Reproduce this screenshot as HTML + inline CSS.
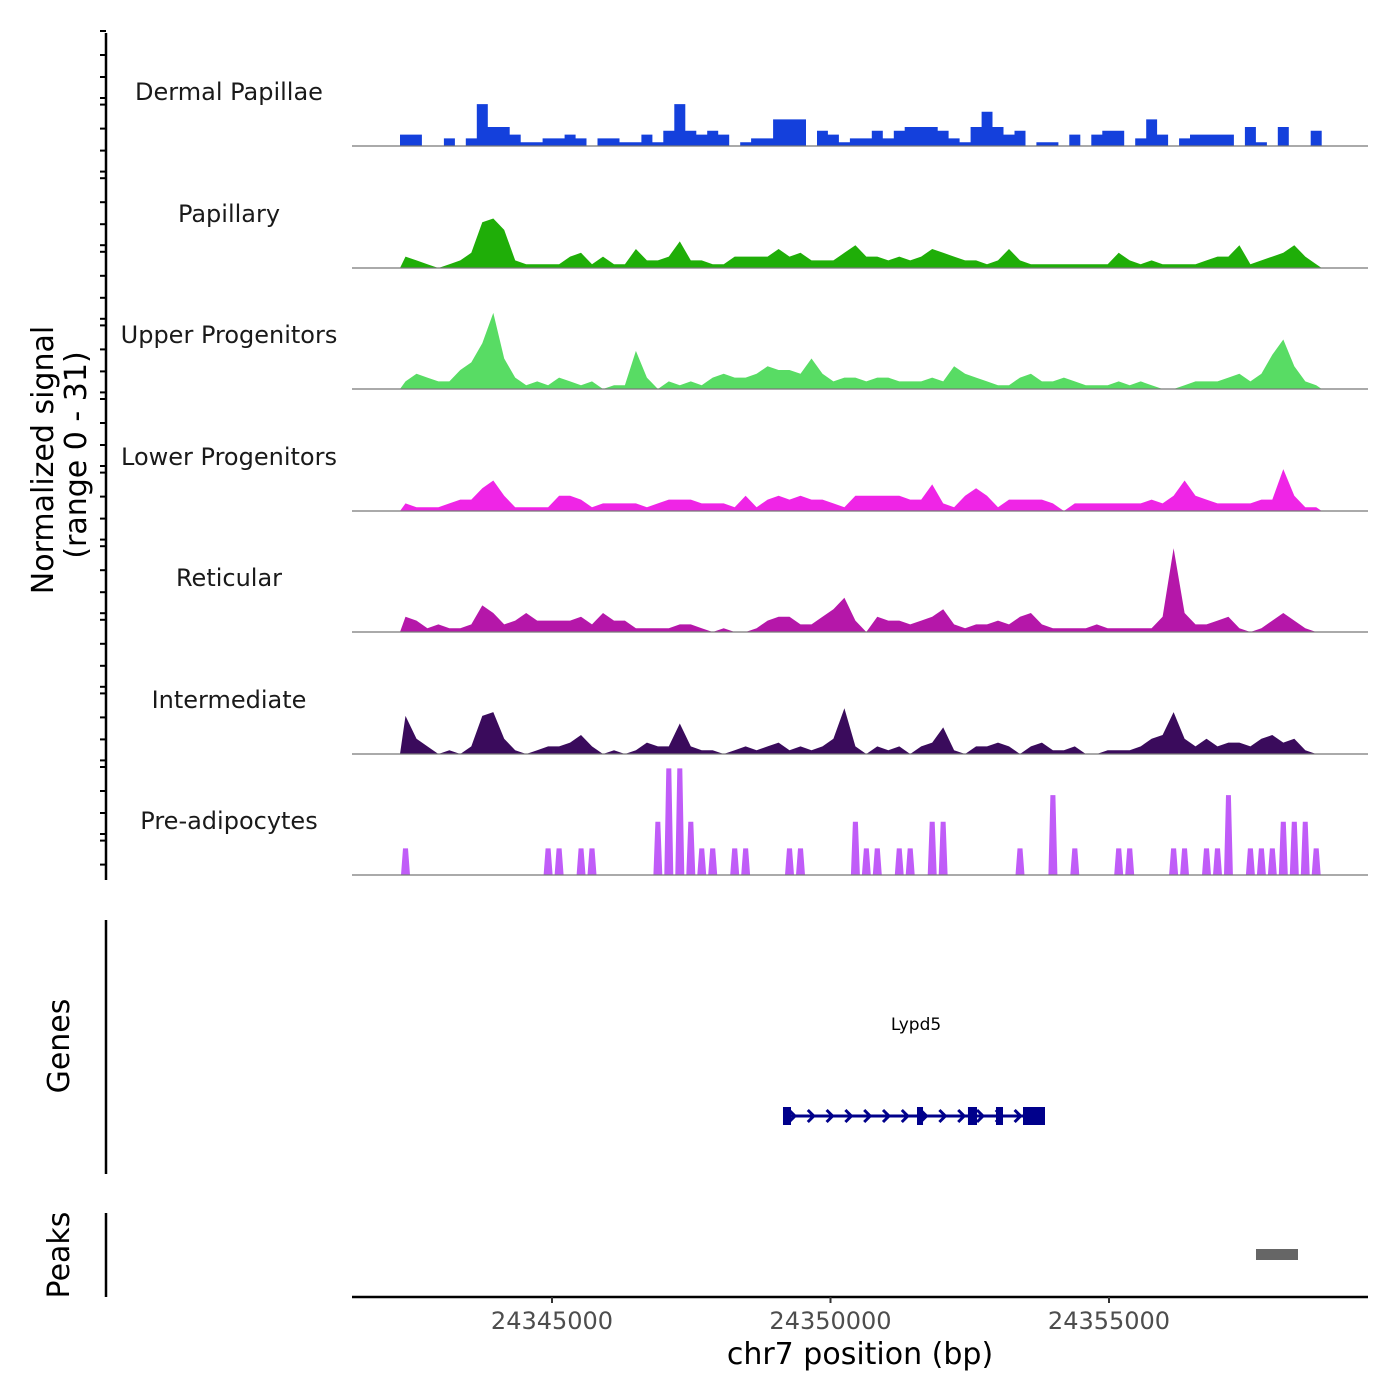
<!DOCTYPE html>
<html><head><meta charset="utf-8">
<style>
html,body{margin:0;padding:0;background:#fff;}
svg{display:block;font-family:"DejaVu Sans","Liberation Sans",sans-serif;}
</style></head>
<body>
<svg id="chart" width="1400" height="1400" viewBox="0 0 1400 1400" xmlns="http://www.w3.org/2000/svg">
<g id="tracks"></g>
<g id="axes"></g>
<g id="genes"></g>
</svg>
<script>
// ---- data ----
const binStart = 24342271;   // bp of first bin start
const binSize = 197;         // bp per bin
const trackNames = ["Dermal Papillae","Papillary","Upper Progenitors","Lower Progenitors","Reticular","Intermediate","Pre-adipocytes"];
const trackColors = ["#1440dc","#1fae08","#58dc64","#ef25e6","#b517a9","#3a0b5c","#c05cf8"];
const dermal = [3,3,0,0,2,0,2,11,5,5,3,1,1,2,2,3,2,0,2,2,1,1,3,1,4,11,4,3,4,3,0,1,2,2,7,7,7,0,4,3,1,2,2,4,2,4,5,5,5,4,2,1,5,9,5,3,4,0,1,1,0,3,0,3,4,4,0,2,7,3,0,2,3,3,3,3,0,5,1,0,5,0,0,4];
const papillary = [3,2,1,0,1,2,4,12,13,10,2,1,1,1,1,3,4,1,3,1,1,5,2,2,3,7,2,2,1,1,3,3,3,3,5,3,4,2,2,2,4,6,3,3,2,3,2,3,5,4,3,2,2,1,2,5,2,1,1,1,1,1,1,1,1,4,2,1,2,1,1,1,1,2,3,3,6,1,2,3,4,6,3,1];
const upper = [2,4,3,2,2,5,7,12,20,8,3,1,2,1,3,2,1,2,0,1,1,10,3,0,2,1,2,1,3,4,3,3,4,6,5,5,4,8,4,2,3,3,2,3,3,2,2,2,3,2,6,4,3,2,1,1,3,4,2,2,3,2,1,1,1,2,1,2,1,0,0,1,2,2,2,3,4,2,4,9,13,6,2,1];
const lower = [2,1,1,1,2,3,3,6,8,4,1,1,1,1,4,4,3,1,2,2,2,2,1,2,3,3,3,2,2,2,1,4,1,3,4,3,4,3,3,2,1,4,4,4,4,4,3,3,7,2,1,4,6,4,1,3,3,3,3,2,0,2,2,2,2,2,2,2,3,2,4,8,4,3,2,2,2,2,3,3,11,4,1,1];
const reticular = [4,3,1,2,1,1,2,7,5,2,3,5,3,3,3,3,4,2,5,3,3,1,1,1,1,2,2,1,0,1,0,0,1,3,4,4,2,2,4,6,9,3,0,4,3,3,2,3,4,6,2,1,2,2,3,2,4,5,2,1,1,1,1,2,1,1,1,1,1,4,22,5,2,2,3,4,1,0,1,3,5,3,1,0];
const intermediate = [10,4,2,0,1,0,2,10,11,4,1,0,1,2,2,3,5,2,0,1,0,1,3,2,2,8,2,1,1,0,1,2,1,2,3,1,2,1,2,4,12,2,0,2,1,2,0,2,3,7,1,0,2,2,3,2,0,2,3,1,1,2,0,0,1,1,1,2,4,5,11,4,2,4,2,3,3,2,4,5,3,4,1,0];
const preadip = [7,0,0,0,0,0,0,0,0,0,0,0,0,7,7,0,7,7,0,0,0,0,0,14,28,28,14,7,7,0,7,7,0,0,0,7,7,0,0,0,0,14,7,7,0,7,7,0,14,14,0,0,0,0,0,0,7,0,0,21,0,7,0,0,0,7,7,0,0,0,7,7,0,7,7,21,0,7,7,7,14,14,14,7];
const trackValues = [dermal,papillary,upper,lower,reticular,intermediate,preadip];
const trackStyle = ["step","smooth","smooth","smooth","smooth","smooth","spike"];
const xTicks = [24345000,24350000,24355000];
const geneLine = [24349201,24353833];
const geneExons = [[24349147,24349291],[24351553,24351661],[24352468,24352630],[24352971,24353097],[24353456,24353851]];
const peaks = [[24357639,24358393]];

// ---- scales ----
const NS="http://www.w3.org/2000/svg";
const xPx = bp => 552 + (bp-24345000)*278.5/5000;
const baselines=[146,268,389,511,632,754,875];
const yMax = 31, yPx = 118;
const yScale = (base,v) => base - v*yPx/yMax;
function mk(tag,attrs,parent){const e=document.createElementNS(NS,tag);for(const k in attrs)e.setAttribute(k,attrs[k]);parent.appendChild(e);return e;}

const tg=document.getElementById('tracks');
trackValues.forEach((vals,t)=>{
  const base=baselines[t];
  const style=trackStyle[t];
  const g=mk('g',{},tg);
  
  
  let d='M'+xPx(binStart).toFixed(1)+','+base;
  vals.forEach((v,i)=>{
    const x0=xPx(binStart+i*binSize), x1=xPx(binStart+(i+1)*binSize);
    const y=yScale(base,v);
    if(style==="smooth"){
      d+=' L'+((x0+x1)/2).toFixed(1)+','+y.toFixed(1);
    } else if(style==="spike"){
      if(v>0){d+=' L'+(x0+1).toFixed(1)+','+base+' L'+(x0+3).toFixed(1)+','+y.toFixed(1)+' L'+(x1-3).toFixed(1)+','+y.toFixed(1)+' L'+(x1-1).toFixed(1)+','+base;}
      else d+=' L'+x1.toFixed(1)+','+base;
    } else {
      d+=' L'+x0.toFixed(1)+','+y.toFixed(1)+' L'+x1.toFixed(1)+','+y.toFixed(1);
    }
  });
  d+=' L'+xPx(binStart+vals.length*binSize).toFixed(1)+','+base+' Z';
  const p=mk('path',{d:d,fill:trackColors[t]},g);
  
  
  const bl=mk('line',{x1:352,x2:1368,y1:base,y2:base,stroke:'#777','stroke-width':1.2},g);
  
  
  const lb=mk('text',{x:229,y:base-46,'text-anchor':'middle','font-size':24,fill:'#1a1a1a'},g);
  lb.textContent=trackNames[t];
  
  
});

// ---- axes ----
const ax=document.getElementById('axes');
let l=mk('line',{x1:106,x2:106,y1:33,y2:880,stroke:'#000','stroke-width':2.5},ax);


for(let k=0;k<12;k++){[0,24,46,67].forEach(o=>{const y=31+73.6*k+o;if(y<879){
  const t=mk('line',{x1:100,x2:106,y1:y,y2:y,stroke:'#000','stroke-width':2},ax);
  
  }});}
let tt=mk('text',{transform:'translate(53,460) rotate(-90)','text-anchor':'middle','font-size':30,fill:'#000'},ax);
tt.textContent='Normalized signal';


tt=mk('text',{transform:'translate(86,455) rotate(-90)','text-anchor':'middle','font-size':30,fill:'#000'},ax);
tt.textContent='(range 0 - 31)';


l=mk('line',{x1:106,x2:106,y1:920,y2:1174,stroke:'#000','stroke-width':2.5},ax);


tt=mk('text',{transform:'translate(69,1046) rotate(-90)','text-anchor':'middle','font-size':30,fill:'#000'},ax);
tt.textContent='Genes';


l=mk('line',{x1:106,x2:106,y1:1213,y2:1297,stroke:'#000','stroke-width':2.5},ax);


tt=mk('text',{transform:'translate(69,1255) rotate(-90)','text-anchor':'middle','font-size':30,fill:'#000'},ax);
tt.textContent='Peaks';


l=mk('line',{x1:352,x2:1368,y1:1297,y2:1297,stroke:'#000','stroke-width':2.5},ax);


xTicks.forEach(v=>{
  const x=xPx(v);
  const t=mk('line',{x1:x,x2:x,y1:1297,y2:1303,stroke:'#333','stroke-width':2},ax);
  
  
  const lb=mk('text',{x:x,y:1329,'text-anchor':'middle','font-size':24,fill:'#4d4d4d'},ax);
  lb.textContent=String(v);
  
  
});
tt=mk('text',{x:860,y:1364,'text-anchor':'middle','font-size':30,fill:'#000'},ax);
tt.textContent='chr7 position (bp)';



// ---- genes & peaks ----
const gg=document.getElementById('genes');
const gx0=xPx(geneLine[0]), gx1=xPx(geneLine[1]);
l=mk('line',{x1:gx0,x2:gx1,y1:1116,y2:1116,stroke:'#00008b','stroke-width':3},gg);


for(let x=gx0+6;x<gx1-8;x+=18.8){
  const a=mk('polyline',{points:(x-3)+',1110 '+(x+3)+',1116 '+(x-3)+',1122',fill:'none',stroke:'#00008b','stroke-width':3},gg);
  
  
}
geneExons.forEach(e=>{
  const x0=xPx(e[0]),x1=xPx(e[1]);
  const r=mk('rect',{x:x0,y:1107,width:x1-x0,height:18,fill:'#00008b'},gg);
  
  
});
tt=mk('text',{x:916,y:1030,'text-anchor':'middle','font-size':17,fill:'#000'},gg);
tt.textContent='Lypd5';


peaks.forEach(p=>{
  const x0=xPx(p[0]),x1=xPx(p[1]);
  const r=mk('rect',{x:x0,y:1249,width:x1-x0,height:11,fill:'#666'},gg);
  
  
});
</script>
</body></html>
